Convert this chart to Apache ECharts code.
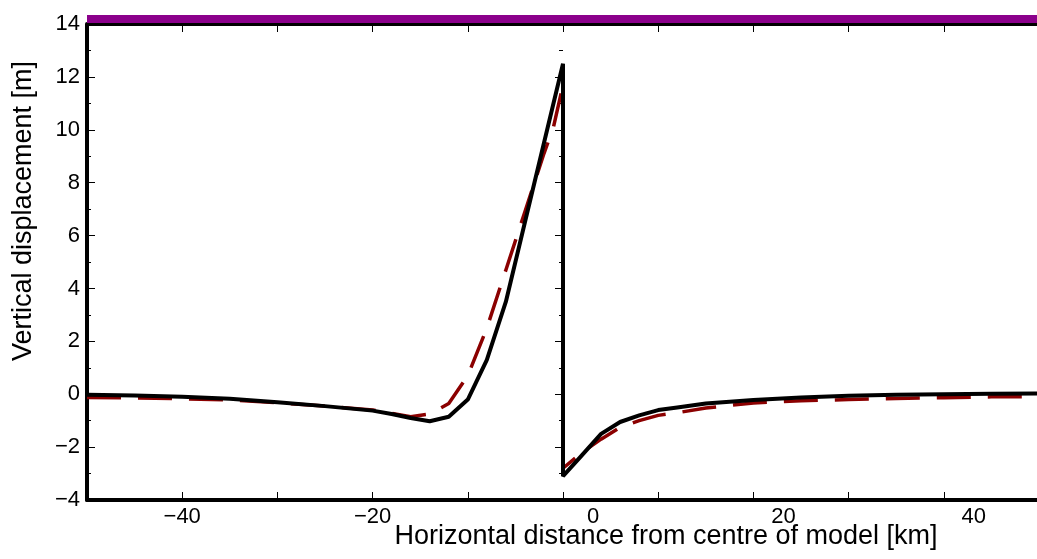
<!DOCTYPE html>
<html>
<head>
<meta charset="utf-8">
<script src="https://cdn.jsdelivr.net/npm/echarts@6/dist/echarts.min.js"></script>
<style>
  html, body { margin: 0; padding: 0; background: #fff; }
  #chart { width: 1037px; height: 559px; }
</style>
</head>
<body>
<div id="chart"></div>
<script>
// distances along the profile [km]
const modelX = [-50, -45, -40, -35, -30, -25, -20, -18, -16, -14, -12, -10, -8, -6, -4, -2, 0, 0, 2, 4, 6, 8, 10, 12, 15, 20, 25, 30, 35, 40, 45, 50]
// black solid curve [m]
const modelY = [-0.02, -0.05, -0.1, -0.17, -0.3, -0.45, -0.62, -0.75, -0.9, -1.02, -0.85, -0.2, 1.3, 3.5, 6.5, 9.5, 12.5, -3.1, -2.3, -1.5, -1.05, -0.8, -0.6, -0.5, -0.35, -0.22, -0.12, -0.06, -0.02, 0.0, 0.02, 0.03]

const refX = [-50, -45, -40, -35, -30, -25, -20, -18, -16, -14, -12, -10, -8, -6, -4, -2, -1, 0, 0, 2, 4, 6, 8, 10, 12, 15, 20, 25, 30, 35, 40, 45, 50]
// dark red dashed curve [m]
const refY = [-0.12, -0.14, -0.17, -0.22, -0.32, -0.45, -0.6, -0.72, -0.85, -0.75, -0.35, 0.7, 2.5, 4.7, 6.9, 9.1, 10.1, 11.7, -2.8, -2.2, -1.7, -1.25, -1.0, -0.8, -0.7, -0.52, -0.33, -0.25, -0.2, -0.16, -0.13, -0.1, -0.09]

// purple band along the top of the frame
const bandX = [-50, 50]
const bandY = [14.19, 14.19]

const xTicks = { min: -50, max: 50, step: 10 }
const yTicks = { min: -4, max: 14, step: 2 }

const zip = (a, b) => a.map((v, i) => [v, b[i]])

const chart = echarts.init(document.getElementById('chart'))

const fmtNum = v => (v < 0 ? '\u2212' + Math.abs(v) : String(v))

const labelFont = {
  color: '#000',
  fontFamily: 'Liberation Sans, Arial, sans-serif',
  fontSize: 22
}

const nameFont = {
  color: '#000',
  fontFamily: 'Liberation Sans, Arial, sans-serif',
  fontSize: 27
}

chart.setOption({
  animation: false,
  backgroundColor: '#fff',

  grid: {
    left: 87,
    right: -2,
    top: 24,
    bottom: 59,
    outerBoundsMode: 'none'
  },

  xAxis: [
    {
      type: 'value',
      min: xTicks.min,
      max: xTicks.max,
      interval: xTicks.step,
      position: 'bottom',
      name: 'Horizontal distance from centre of model [km]',
      nameLocation: 'middle',
      nameGap: 23,
      nameMoveOverlap: false,
      nameTextStyle: Object.assign({}, nameFont, { padding: [0, 0, 0, 206] }),
      axisLine: { onZero: false, lineStyle: { color: '#000', width: 4 } },
      axisTick: { inside: true, length: 8, lineStyle: { color: '#000', width: 1 } },
      axisLabel: Object.assign({}, labelFont, {
        margin: 6,
        showMinLabel: false,
        showMaxLabel: false,
        formatter: v => {
          if (v % 20 !== 0) return ''
          return v < 0 ? fmtNum(v) : '{pos|' + v + '}'
        },
        rich: {
          pos: Object.assign({}, labelFont, { padding: [0, 0, 0, 60] })
        }
      }),
      splitLine: { show: false }
    },
    {
      type: 'value',
      min: xTicks.min,
      max: xTicks.max,
      interval: xTicks.step,
      position: 'top',
      axisLine: { onZero: false, lineStyle: { color: '#000', width: 3 } },
      axisTick: { inside: true, length: 8, lineStyle: { color: '#000', width: 1 } },
      axisLabel: { show: false },
      splitLine: { show: false }
    }
  ],

  yAxis: [
    {
      type: 'value',
      min: yTicks.min,
      max: yTicks.max,
      interval: yTicks.step,
      position: 'left',
      name: 'Vertical displacement [m]',
      nameLocation: 'middle',
      nameGap: 50,
      nameMoveOverlap: false,
      nameTextStyle: Object.assign({}, nameFont, { padding: [0, 0, 0, 102] }),
      axisLine: { onZero: false, lineStyle: { color: '#000', width: 4 } },
      axisTick: { inside: true, length: 8, lineStyle: { color: '#000', width: 1 } },
      minorTick: { show: true, splitNumber: 2, length: 4, lineStyle: { color: '#000', width: 1 } },
      axisLabel: Object.assign({}, labelFont, { margin: 7, formatter: fmtNum }),
      splitLine: { show: false },
      minorSplitLine: { show: false }
    },
    {
      type: 'value',
      min: yTicks.min,
      max: yTicks.max,
      interval: yTicks.step,
      position: 'right',
      axisLine: { show: false },
      axisTick: { inside: true, length: 8, lineStyle: { color: '#000', width: 1 } },
      minorTick: { show: true, splitNumber: 2, length: 4, lineStyle: { color: '#000', width: 1 } },
      axisLabel: { show: false },
      splitLine: { show: false },
      minorSplitLine: { show: false }
    }
  ],

  series: [
    {
      name: 'band',
      type: 'line',
      data: zip(bandX, bandY),
      symbol: 'none',
      clip: false,
      silent: true,
      z: 1,
      lineStyle: { color: '#8b008b', width: 8, cap: 'butt' }
    },
    {
      name: 'reference',
      type: 'line',
      data: zip(refX, refY),
      symbol: 'none',
      z: 3,
      lineStyle: { color: '#8b0000', width: 3.5, type: [34, 17], cap: 'butt' }
    },
    {
      name: 'model',
      type: 'line',
      data: zip(modelX, modelY),
      symbol: 'none',
      z: 4,
      lineStyle: { color: '#000', width: 4 }
    }
  ]
})
</script>
</body>
</html>
